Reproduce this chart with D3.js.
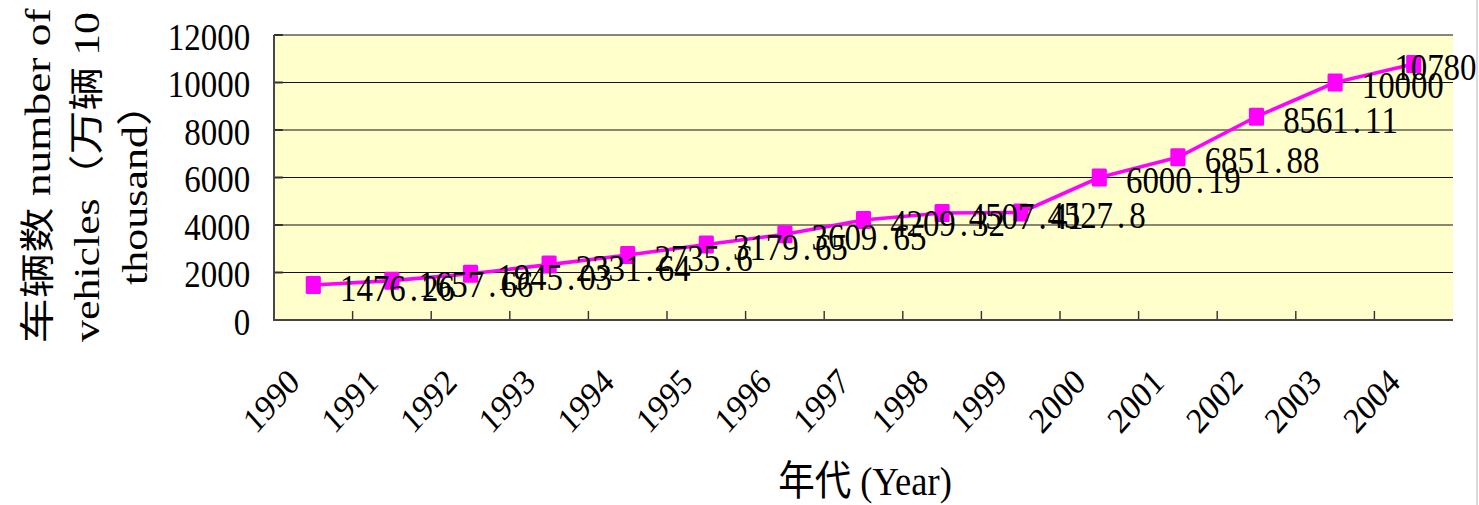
<!DOCTYPE html>
<html><head><meta charset="utf-8">
<script src="https://cdn.jsdelivr.net/npm/d3@7"></script>
<style>html,body{margin:0;padding:0;background:#fff;overflow:hidden;}</style>
</head><body>
<svg id="chart" width="1479" height="505"></svg>
<script>
// ---- data ----
const years = ["1990","1991","1992","1993","1994","1995","1996","1997","1998","1999","2000","2001","2002","2003","2004"];
const vehicles = [1476.26, 1657.66, 1945.03, 2331.64, 2735.6, 3179.65, 3609.65, 4209.32, 4507.41, 4527.8, 6000.19, 6851.88, 8561.11, 10000, 10780];
const yTicks = [0, 2000, 4000, 6000, 8000, 10000, 12000];
const yTitleLines = ["车辆数 number of", "vehicles（万辆 10", "thousand）"];
const xTitle = "年代 (Year)";

// ---- layout ----
const W = 1479, H = 505, SX = 0.89;           // whole chart is horizontally condensed
const Wu = W / SX;
const plot = {l: 274 / SX, r: 1453 / SX, t: 35, b: 320};
const serif = "'Liberation Serif', 'Times New Roman', 'Noto Sans CJK SC', serif";
const magenta = "#FF00FF";

const svg = d3.select("#chart");
svg.append("rect").attr("width", W).attr("height", H).attr("fill", "#fff");
const g = svg.append("g").attr("transform", `scale(${SX},1)`);

const x = d3.scaleBand().domain(years).range([plot.l, plot.r]).padding(0);
const y = d3.scaleLinear().domain([0, 12000]).range([plot.b, plot.t]);
const bw = x.bandwidth();
const cx = d => x(d) + bw / 2;

// plot background
g.append("rect").attr("x", plot.l).attr("y", plot.t)
  .attr("width", plot.r - plot.l).attr("height", plot.b - plot.t)
  .attr("fill", "#FFFFCC");

// gridlines
g.append("g").selectAll("line").data(yTicks.filter(v => v > 0)).join("line")
  .attr("x1", plot.l).attr("x2", plot.r)
  .attr("y1", d => y(d)).attr("y2", d => y(d))
  .attr("stroke", "#111").attr("stroke-width", 1.1);

// y axis inner tick marks
g.append("g").selectAll("line").data(yTicks).join("line")
  .attr("x1", plot.l).attr("x2", plot.l + 10)
  .attr("y1", d => y(d)).attr("y2", d => y(d))
  .attr("stroke", "#333").attr("stroke-width", 2);

// x category boundary ticks
g.append("g").selectAll("line").data(years.slice(1)).join("line")
  .attr("x1", d => x(d)).attr("x2", d => x(d))
  .attr("y1", plot.b).attr("y2", plot.b - 9)
  .attr("stroke", "#333").attr("stroke-width", 1.6);

// axis lines
g.append("line").attr("x1", plot.l).attr("x2", plot.l).attr("y1", plot.t).attr("y2", plot.b + 1)
  .attr("stroke", "#444").attr("stroke-width", 2.2);
g.append("line").attr("x1", plot.l - 1).attr("x2", plot.r).attr("y1", plot.b).attr("y2", plot.b)
  .attr("stroke", "#444").attr("stroke-width", 2.2);

// right border of chart area
g.append("line").attr("x1", 1477 / SX).attr("x2", 1477 / SX).attr("y1", 0).attr("y2", H)
  .attr("stroke", "#c8c8c8").attr("stroke-width", 1.5);

// y axis labels
const yAxis = d3.axisLeft(y).tickValues(yTicks).tickSize(0).tickPadding(plot.l - 281)
  .tickFormat(d3.format("d"));
const ya = g.append("g").attr("transform", `translate(${plot.l},0)`).call(yAxis);
ya.select(".domain").remove();
ya.selectAll("text").attr("font-family", serif).attr("font-size", 37)
  .attr("fill", "#000").attr("dy", "0.38em");

// x axis labels
const xAxis = d3.axisBottom(x).tickSize(0);
const xa = g.append("g").attr("transform", `translate(0,${plot.b})`).call(xAxis);
xa.select(".domain").remove();
xa.selectAll("text").attr("font-family", serif).attr("font-size", 36).attr("fill", "#000")
  .attr("text-anchor", "end").attr("x", 0).attr("y", 0).attr("dy", 0)
  .attr("transform", `translate(${-12 / SX},${384 - plot.b}) rotate(-45)`);

// line
const pts = years.map((yr, i) => ({yr, v: vehicles[i]}));
g.append("path").datum(pts)
  .attr("d", d3.line().x(d => cx(d.yr)).y(d => y(d.v)))
  .attr("fill", "none").attr("stroke", magenta).attr("stroke-width", 3.6)
  .attr("stroke-linejoin", "round");

// markers
g.append("g").selectAll("rect").data(pts).join("rect")
  .attr("x", d => cx(d.yr) - 8.5).attr("y", d => y(d.v) - 9)
  .attr("width", 17).attr("height", 18).attr("rx", 1.5)
  .attr("fill", magenta);

// data labels (SimSun-like: every character in a half-width cell)
const step = 18.4;
g.append("g").selectAll("text").data(pts).join("text")
  .attr("font-family", serif).attr("font-size", 37).attr("fill", "#000")
  .attr("text-anchor", "middle")
  .attr("y", d => y(d.v) + 16)
  .attr("x", d => {
    const s = String(d.v);
    let start = cx(d.yr) + 39.3;
    const end = start - step / 2 + s.length * step;
    if (end > Wu - 3) start -= end - (Wu - 3);
    return s.split("").map((c, k) => (start + k * step).toFixed(1)).join(" ");
  })
  .text(d => String(d.v));

// y title
const yTitlePos = [{bx: 56, cy: 176, len: 335}, {bx: 111, cy: 177, len: 330}, {bx: 165, cy: 183.5, len: 203}];
g.append("g").selectAll("text").data(yTitleLines).join("text")
  .attr("transform", (d, i) => `translate(${yTitlePos[i].bx},${yTitlePos[i].cy}) rotate(-90)`)
  .attr("text-anchor", "middle").attr("font-family", serif).attr("font-size", 40)
  .attr("textLength", (d, i) => yTitlePos[i].len).attr("lengthAdjust", "spacingAndGlyphs")
  .attr("fill", "#000")
  .text(d => d);

// x title
g.append("text").attr("x", 865 / SX).attr("y", 495)
  .attr("text-anchor", "middle").attr("font-family", serif).attr("font-size", 41)
  .attr("fill", "#000").text(xTitle);
</script>
</body></html>
